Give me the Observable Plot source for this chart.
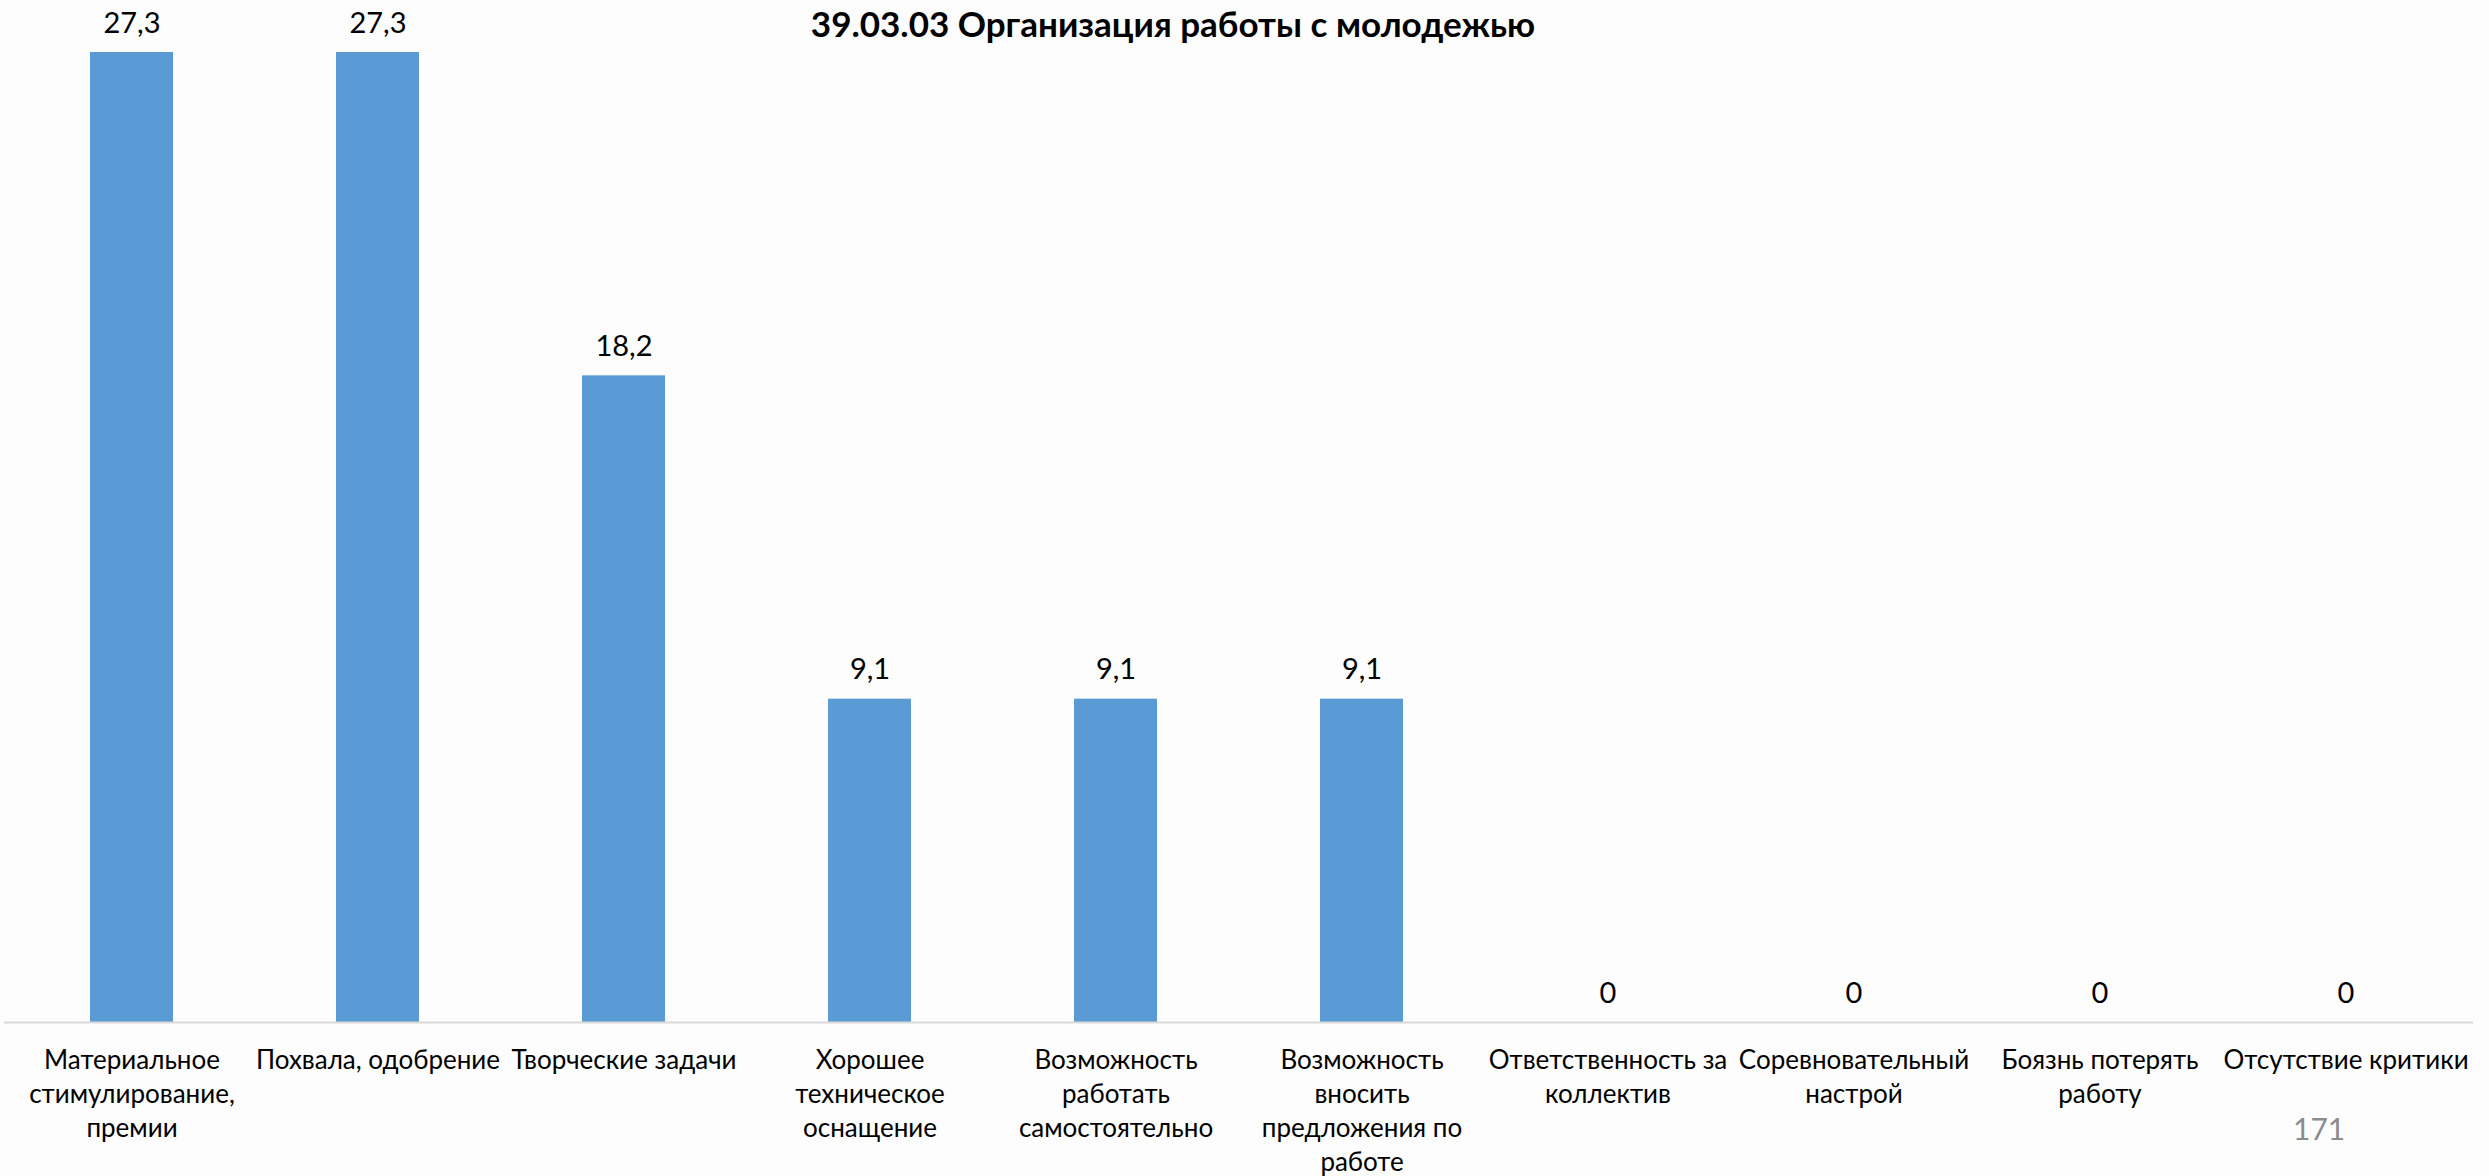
<!DOCTYPE html>
<html>
<head>
<meta charset="utf-8">
<script src="https://cdn.jsdelivr.net/npm/d3@7"></script>
<script src="https://cdn.jsdelivr.net/npm/@observablehq/plot@0.6"></script>
<style>
  html, body { margin: 0; padding: 0; background: #fdfdfd; }
  #wrap { position: relative; width: 2489px; height: 1176px; font-family: Lato, "Open Sans", sans-serif; }
  #title { position: absolute; left: 0; width: 2346px; top: 2px; text-align: center; font-size: 35px; font-weight: bold; color: #000; }
  #page { position: absolute; left: 2293px; top: 1110px; font-size: 30px; color: #8c8c8c; }
</style>
</head>
<body>
<div id="wrap">
  <div id="chart"></div>
  <div id="title">39.03.03 Организация работы с молодежью</div>
  <div id="page">171</div>
</div>
<script>
const categories = [
  "Материальное\nстимулирование,\nпремии",
  "Похвала, одобрение",
  "Творческие задачи",
  "Хорошее\nтехническое\nоснащение",
  "Возможность\nработать\nсамостоятельно",
  "Возможность\nвносить\nпредложения по\nработе",
  "Ответственность за\nколлектив",
  "Соревновательный\nнастрой",
  "Боязнь потерять\nработу",
  "Отсутствие критики"
];
const values = [27.3, 27.3, 18.2, 9.1, 9.1, 9.1, 0, 0, 0, 0];

const data = categories.map((c, i) => ({category: c, value: values[i]}));
const fmt = v => String(v).replace(".", ",");

const chart = Plot.plot({
  width: 2489,
  height: 1176,
  marginLeft: 4,
  marginRight: 16,
  marginTop: 52,
  marginBottom: 154,
  style: {background: "transparent", fontFamily: "Lato, \"Open Sans\", sans-serif", color: "#000"},
  x: {domain: categories, paddingInner: 0.664, paddingOuter: 0.332, label: null},
  y: {domain: [0, 27.3], axis: null},
  marks: [
    Plot.barY(data, {x: "category", y: "value", fill: "#5B9BD5"}),
    Plot.ruleY([0], {stroke: "#d9d9d9", strokeWidth: 2}),
    Plot.text(data, {x: "category", y: "value", text: d => fmt(d.value), dy: -29, fontSize: 29, fill: "#000"}),
    Plot.axisX({tickSize: 0, tickPadding: 22, fontSize: 26, lineHeight: 1.31, lineAnchor: "top", label: null, fill: "#000"})
  ]
});
document.getElementById("chart").appendChild(chart);
</script>
</body>
</html>
